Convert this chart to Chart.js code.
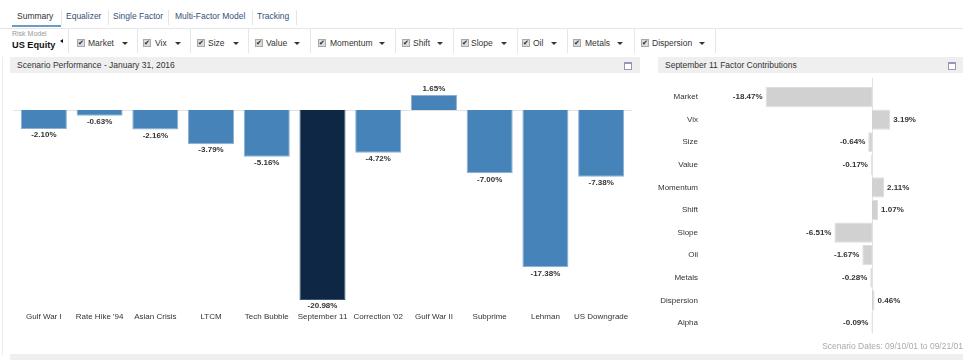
<!DOCTYPE html>
<html>
<head>
<meta charset="utf-8">
<script src="https://cdn.jsdelivr.net/npm/chart.js@4.4.1/dist/chart.umd.min.js"></script>
<style>
  body { margin: 0; width: 975px; height: 360px; overflow: hidden; background: #fff;
         font-family: Arial, "Liberation Sans", sans-serif; color: #333; position: relative; }
  .abs { position: absolute; white-space: nowrap; }
  .tab { position: absolute; top: 10px; font-size: 8.5px; line-height: 12px; color: #34507a; }
  .tabsep { position: absolute; top: 10px; width: 1px; height: 15px; background: #e6e6e6; }
  .sep { position: absolute; top: 29px; width: 1px; height: 24px; background: #e6e6e6; }
  .cb { position: absolute; top: 39px; width: 6px; height: 6px; border: 1px solid #a8a8a8;
        background: #dcdcdc; font-size: 7px; line-height: 6px; text-align: center; color: #222;
        font-family: "DejaVu Sans", sans-serif; overflow: hidden; }
  .fl { position: absolute; top: 37px; font-size: 8.5px; line-height: 12px; color: #333; }
  .caret { position: absolute; top: 42px; width: 0; height: 0; border-left: 3px solid transparent;
           border-right: 3px solid transparent; border-top: 3px solid #333; }
  .head { position: absolute; top: 57px; height: 16px; background: #efefef; }
  .head span { position: absolute; left: 7px; top: 2px; font-size: 8.5px; line-height: 12px; color: #333; }
  .icon { position: absolute; top: 5px; width: 6px; height: 5px; border: 1px solid #9696b8; border-top-width: 2px; background: #fff; }
  canvas { position: absolute; }
</style>
</head>
<body>
<!-- tabs -->
<div class="tab" style="left:17px;color:#333">Summary</div>
<div class="abs" style="left:12px;top:25px;width:49px;height:2px;background:#6b9bc9"></div>
<div class="tabsep" style="left:61px"></div>
<div class="tab" style="left:66px">Equalizer</div>
<div class="tabsep" style="left:108px"></div>
<div class="tab" style="left:113px">Single Factor</div>
<div class="tabsep" style="left:168px"></div>
<div class="tab" style="left:175px">Multi-Factor Model</div>
<div class="tabsep" style="left:252px"></div>
<div class="tab" style="left:257px">Tracking</div>
<div class="tabsep" style="left:296px"></div>

<!-- factor toolbar -->
<div class="abs" style="left:0;top:28px;width:963px;height:1px;background:#e6e6e6"></div>
<div class="abs" style="left:12px;top:29px;font-size:7px;line-height:9px;color:#999">Risk Model</div>
<div class="abs" style="left:12px;top:39px;font-size:9.2px;line-height:12px;font-weight:bold;color:#111">US Equity</div>
<div class="abs" style="left:60px;top:39px;width:0;height:0;border-top:2.5px solid transparent;border-bottom:2.5px solid transparent;border-right:3px solid #111"></div>
<div id="toolbar"></div>

<!-- panel headers -->
<div class="head" style="left:10px;width:630px"><span>Scenario Performance - January 31, 2016</span><div class="icon" style="left:614px"></div></div>
<div class="head" style="left:658px;width:305px"><span>September 11 Factor Contributions</span><div class="icon" style="left:290px"></div></div>

<div class="abs" style="left:2px;top:57px;width:1px;height:298px;background:#ececec"></div>

<canvas id="scenarioChart" width="630" height="260" style="left:10px;top:74px"></canvas>
<canvas id="factorChart" width="283" height="272" style="left:658px;top:74px"></canvas>

<div class="abs" style="right:12px;top:340px;font-size:8.5px;line-height:12px;color:#aaa">Scenario Dates: 09/10/01 to 09/21/01</div>
<div class="abs" style="left:10px;top:354px;width:953px;height:6px;background:#efefef"></div>

<script>
// scenario performance (left chart)
const scenarioLabels = ['Gulf War I', "Rate Hike '94", 'Asian Crisis', 'LTCM', 'Tech Bubble', 'September 11',
  "Correction '02", 'Gulf War II', 'Subprime', 'Lehman', 'US Downgrade'];
const scenarioValues = [-2.10, -0.63, -2.16, -3.79, -5.16, -20.98, -4.72, 1.65, -7.00, -17.38, -7.38];
const selectedScenario = 'September 11';

// factor contributions (right chart)
const factorLabels = ['Market', 'Vix', 'Size', 'Value', 'Momentum', 'Shift', 'Slope', 'Oil', 'Metals', 'Dispersion', 'Alpha'];
const factorValues = [-18.47, 3.19, -0.64, -0.17, 2.11, 1.07, -6.51, -1.67, -0.28, 0.46, -0.09];

// toolbar factors (checkbox x, label x, caret x)
const toolbarFactors = ['Market', 'Vix', 'Size', 'Value', 'Momentum', 'Shift', 'Slope', 'Oil', 'Metals', 'Dispersion'];
const toolbarPos = [[77, 88, 122], [143, 155, 175], [197, 208, 233], [255, 266, 294], [318, 330, 379],
  [402, 413, 437], [461, 471, 501], [522, 533, 551], [573, 585, 617], [641, 652, 699]];
const separatorX = [68, 137, 190, 248, 310, 395, 453, 517, 567, 634, 715];

let html = '';
separatorX.forEach(x => { html += '<div class="sep" style="left:' + x + 'px"></div>'; });
toolbarFactors.forEach((f, i) => {
  const p = toolbarPos[i];
  html += '<div class="cb" style="left:' + p[0] + 'px">&#10004;</div>';
  html += '<div class="fl" style="left:' + p[1] + 'px">' + f + '</div>';
  html += '<div class="caret" style="left:' + p[2] + 'px"></div>';
});
document.getElementById('toolbar').innerHTML = html;

Chart.defaults.font.family = 'Arial, "Liberation Sans", sans-serif';
Chart.defaults.color = '#333';

// draws the zero line and the % labels
const valueLabels = {
  id: 'valueLabels',
  beforeDatasetsDraw(chart) {
    const ctx = chart.ctx;
    const a = chart.chartArea;
    ctx.save();
    ctx.strokeStyle = '#e2e2e2';
    ctx.lineWidth = 1;
    ctx.beginPath();
    if (chart.options.indexAxis === 'y') {
      const x = Math.round(chart.scales.x.getPixelForValue(0)) + 0.5;
      ctx.moveTo(x, a.top - 8);
      ctx.lineTo(x, a.bottom - 1);
    } else {
      const y = Math.round(chart.scales.y.getPixelForValue(0)) + 0.5;
      ctx.moveTo(a.left - 3, y);
      ctx.lineTo(a.right + 3, y);
    }
    ctx.stroke();
    ctx.restore();
  },
  afterDatasetsDraw(chart) {
    const ctx = chart.ctx;
    const horiz = chart.options.indexAxis === 'y';
    const values = chart.data.datasets[0].data;
    ctx.save();
    ctx.font = 'bold 8px Arial, "Liberation Sans", sans-serif';
    ctx.fillStyle = '#333';
    chart.getDatasetMeta(0).data.forEach((el, i) => {
      const v = values[i];
      const txt = v.toFixed(2) + '%';
      if (horiz) {
        ctx.textBaseline = 'middle';
        ctx.textAlign = v < 0 ? 'right' : 'left';
        ctx.fillText(txt, v < 0 ? el.x - 3 : el.x + 3, el.y);
      } else {
        ctx.textAlign = 'center';
        ctx.textBaseline = v < 0 ? 'top' : 'bottom';
        ctx.fillText(txt, el.x, v < 0 ? el.y + 2 : el.y - 2);
      }
    });
    ctx.restore();
  }
};

new Chart(document.getElementById('scenarioChart'), {
  type: 'bar',
  data: {
    labels: scenarioLabels,
    datasets: [{
      data: scenarioValues,
      backgroundColor: scenarioLabels.map(l => l === selectedScenario ? '#0e2744' : '#4683b8'),
      borderColor: scenarioLabels.map(l => l === selectedScenario ? '#3b5370' : '#8db0d2'),
      borderWidth: 1,
      barPercentage: 0.826,
      categoryPercentage: 1
    }]
  },
  options: {
    responsive: false,
    animation: false,
    devicePixelRatio: 1,
    layout: { padding: { left: 6, right: 11, top: 8.8, bottom: 4.8 } },
    plugins: { legend: { display: false }, tooltip: { enabled: false } },
    scales: {
      x: {
        grid: { display: false, drawTicks: false },
        border: { display: false },
        ticks: { font: { size: 8 }, color: '#333', padding: 3, maxRotation: 0, autoSkip: false },
        afterFit: s => { s.height = 20; }
      },
      y: { display: false, min: -22, max: 3 }
    }
  },
  plugins: [valueLabels]
});

new Chart(document.getElementById('factorChart'), {
  type: 'bar',
  data: {
    labels: factorLabels,
    datasets: [{
      data: factorValues,
      backgroundColor: '#d1d1d1',
      borderColor: '#dedede',
      borderWidth: 1,
      barPercentage: 0.89,
      categoryPercentage: 1
    }]
  },
  options: {
    indexAxis: 'y',
    responsive: false,
    animation: false,
    devicePixelRatio: 1,
    layout: { padding: { left: 0, right: 0, top: 11.75, bottom: 2.75 } },
    plugins: { legend: { display: false }, tooltip: { enabled: false } },
    scales: {
      x: { display: false, min: -29, max: 12 },
      y: {
        grid: { display: false, drawTicks: false },
        border: { display: false },
        ticks: { font: { size: 8 }, color: '#333', padding: 7, autoSkip: false },
        afterFit: s => { s.width = 47; }
      }
    }
  },
  plugins: [valueLabels]
});
</script>
</body>
</html>
